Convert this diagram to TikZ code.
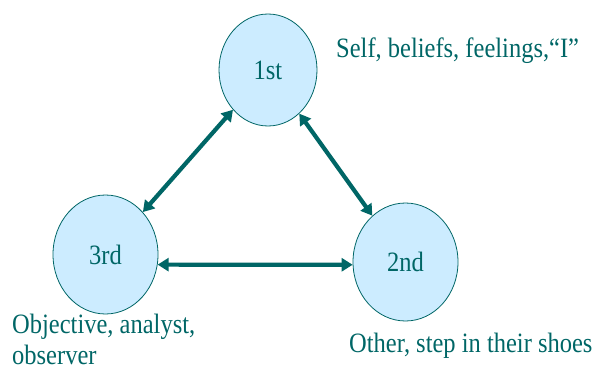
\documentclass[tikz,border=0pt]{standalone}
\usepackage{fontspec}
\setmainfont[FakeStretch=0.875]{Liberation Serif}
\usetikzlibrary{shapes.geometric, arrows.meta}
\definecolor{myteal}{HTML}{006666}
\definecolor{mylightblue}{HTML}{CCECFF}
\tikzset{
	personnode/.style={
			ellipse,
			draw=myteal,
			fill=mylightblue,
			line width=0.8pt,
			inner sep=0pt,
			text=myteal,
			font=\fontsize{28}{31}\selectfont
		},
	linkarrow/.style={
			draw=myteal,
			line width=4.2pt,
			{Triangle[length=11pt,width=13pt]}-{Triangle[length=11pt,width=13pt]}
		},
	labeltext/.style={
			text=myteal,
			inner sep=0pt,
			anchor=base west,
			align=left,
			font=\fontsize{28}{31}\selectfont
		}
}

\begin{document}
\begin{tikzpicture}[x=1pt, y=-1pt]

  \useasboundingbox (0,0) rectangle (602,369);

  \node[personnode, minimum width=98pt, minimum height=112pt] (p1) at (268,70) {1st};
  \node[personnode, minimum width=105pt, minimum height=119pt] (p3) at (105.5,254.5) {3rd};
  \node[personnode, minimum width=105pt, minimum height=118pt] (p2) at (405.5,262) {2nd};

  \node[labeltext] (t1) at (336,57) {Self, beliefs, feelings,“I”};
  \node[labeltext] (t3) at (12,364) {Objective, analyst,\\observer};
  \node[labeltext] (t2) at (349,352) {Other, step in their shoes};

  \draw[linkarrow] (p1) -- (p3);
  \draw[linkarrow] (p1) -- (p2);
  \draw[linkarrow] (p3.-11.6) -- (p2.183);

\end{tikzpicture}
\end{document}
